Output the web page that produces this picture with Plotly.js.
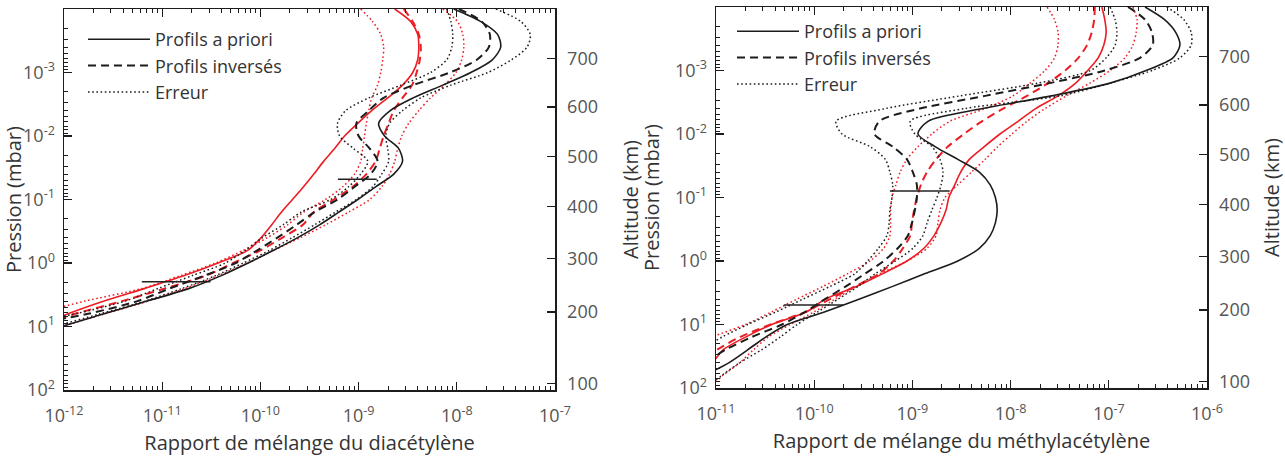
<!DOCTYPE html>
<html>
<head>
<meta charset="utf-8">
<script src="https://cdn.plot.ly/plotly-3.0.1.min.js"></script>
<style>
  html, body { margin: 0; padding: 0; background: #fff; }
  #chart { width: 1285px; height: 462px; }
</style>
</head>
<body>
<div id="chart"></div>
<script>
// ---------- Diacétylène (C4H2) : pression (mbar) et rapports de mélange ----------
const pressureDiac = [1e-4, 1.58e-4, 2.51e-4, 3.98e-4, 6.31e-4, 1e-3, 1.58e-3, 2.51e-3, 3.98e-3, 6.31e-3,
  1e-2, 1.58e-2, 2.51e-2, 3.98e-2, 6.31e-2, 0.1, 0.158, 0.251, 0.398, 0.631,
  1, 1.58, 2.51, 3.98, 6.31, 10, 15.8, 25.1];

const diacPriorBlack = [9.3e-9, 1.76e-8, 2.6e-8, 2.8e-8, 2.3e-8, 1.39e-8, 7.2e-9, 3.6e-9, 2.1e-9, 1.6e-9,
  1.84e-9, 2.56e-9, 2.8e-9, 2.28e-9, 1.49e-9, 9.8e-10, 6.3e-10, 4.0e-10, 2.4e-10, 1.36e-10,
  7.5e-11, 4.0e-11, 1.89e-11, 7.0e-12, 2.56e-12, 9.5e-13, 4.0e-13, 1.76e-13];
const diacRetrBlack = [1.05e-8, 1.8e-8, 2.17e-8, 2.12e-8, 1.6e-8, 8.5e-9, 3.6e-9, 1.8e-9, 1.27e-9, 9.5e-10,
  1.0e-9, 1.3e-9, 1.56e-9, 1.33e-9, 9.1e-10, 6.1e-10, 3.56e-10, 2.33e-10, 1.49e-10, 9.3e-11,
  5.6e-11, 2.7e-11, 1.2e-11, 5.6e-12, 1.76e-12, 3.6e-13, 1.1e-13, 3.4e-14];
const diacErrLowBlack = [7.9e-9, 8.7e-9, 9.1e-9, 8.9e-9, 7.9e-9, 5.4e-9, 2.7e-9, 1.27e-9, 7.4e-10, 6.1e-10,
  6.4e-10, 8.9e-10, 1.24e-9, 1.05e-9, 7.9e-10, 5.2e-10, 2.6e-10, 1.7e-10, 1.05e-10, 7.0e-11,
  4.4e-11, 2.02e-11, 9.1e-12, 4.2e-12, 1.3e-12, 2.5e-13, 7.7e-14, 2.4e-14];
const diacErrHighBlack = [2.5e-8, 4.5e-8, 5.6e-8, 5.2e-8, 3.6e-8, 2.07e-8, 8.7e-9, 4.3e-9, 2.8e-9, 2.07e-9,
  1.89e-9, 1.98e-9, 2.02e-9, 1.72e-9, 1.39e-9, 9.5e-10, 5.8e-10, 3.56e-10, 2.12e-10, 1.24e-10,
  6.7e-11, 3.5e-11, 1.6e-11, 6.7e-12, 2.33e-12, 8.1e-13, 3.2e-13, 1.24e-13];

const diacPriorRed = [2.33e-9, 3.4e-9, 4.0e-9, 4.1e-9, 4.0e-9, 3.56e-9, 2.8e-9, 1.98e-9, 1.36e-9, 9.8e-10,
  7.2e-10, 5.7e-10, 4.4e-10, 3.5e-10, 2.75e-10, 2.12e-10, 1.64e-10, 1.3e-10, 1.02e-10, 7.4e-11,
  3.7e-11, 1.68e-11, 6.7e-12, 2.56e-12, 1.1e-12, 5.1e-13, 2.2e-13, 9.8e-14];
const diacRetrRed = [2.88e-9, 3.56e-9, 4.1e-9, 4.3e-9, 4.2e-9, 3.9e-9, 3.5e-9, 2.8e-9, 2.28e-9, 2.02e-9,
  1.8e-9, 1.64e-9, 1.49e-9, 1.2e-9, 8.7e-10, 5.6e-10, 3.5e-10, 2.7e-10, 1.68e-10, 1.0e-10,
  5.3e-11, 2.8e-11, 1.07e-11, 3.9e-12, 1.3e-12, 5.1e-13, 2.0e-13, 7.7e-14];
const diacErrLowRed = [1.05e-9, 1.39e-9, 1.68e-9, 1.8e-9, 1.76e-9, 1.68e-9, 1.56e-9, 1.36e-9, 1.27e-9, 1.2e-9,
  1.15e-9, 1.1e-9, 1.05e-9, 9.1e-10, 6.9e-10, 4.6e-10, 2.75e-10, 1.89e-10, 1.18e-10, 6.7e-11,
  3.5e-11, 1.53e-11, 6.3e-12, 1.64e-12, 5.1e-13, 1.56e-13, 4.8e-14, 1.5e-14];
const diacErrHighRed = [7.2e-9, 1.02e-8, 1.15e-8, 1.18e-8, 1.12e-8, 9.8e-9, 7.5e-9, 5.4e-9, 4.1e-9, 3.24e-9,
  2.75e-9, 2.5e-9, 2.33e-9, 2.07e-9, 1.72e-9, 1.3e-9, 7.9e-10, 4.6e-10, 2.56e-10, 1.36e-10,
  7.4e-11, 3.7e-11, 1.72e-11, 7.2e-12, 2.6e-12, 9.5e-13, 3.7e-13, 1.46e-13];

// niveaux de sensibilité (barres horizontales)
const diacBarP = [0.048, 1.97];
const diacBarLo = [6.15e-10, 6.2e-12];
const diacBarHi = [1.53e-9, 3.1e-11];

// ---------- Méthylacétylène (CH3C2H) ----------
const pressureMethyl = [1e-4, 1.58e-4, 2.51e-4, 3.98e-4, 6.31e-4, 1e-3, 1.58e-3, 2.51e-3, 3.98e-3, 6.31e-3,
  1e-2, 1.58e-2, 2.51e-2, 3.98e-2, 6.31e-2, 0.1, 0.158, 0.251, 0.398, 0.631,
  1, 1.58, 2.51, 3.98, 6.31, 10, 15.8, 25.1, 39.8, 63.1, 100];

const methylPriorBlack = [2.34e-7, 3.7e-7, 4.8e-7, 5.3e-7, 4.5e-7, 2.4e-7, 1.03e-7, 2.6e-8, 5.2e-9, 1.44e-9,
  1.14e-9, 1.7e-9, 2.9e-9, 4.8e-9, 6.2e-9, 7.0e-9, 7.3e-9, 7.0e-9, 6.2e-9, 4.8e-9,
  2.9e-9, 1.35e-9, 6.3e-10, 2.9e-10, 1.29e-10, 5.3e-11, 3.2e-11, 2.1e-11, 1.36e-11, 7.7e-12, 4.3e-12];
const methylRetrBlack = [1.57e-7, 2.34e-7, 2.75e-7, 2.8e-7, 2.08e-7, 9.1e-8, 2.5e-8, 5.5e-9, 1.19e-9, 4.6e-10,
  4.1e-10, 6.3e-10, 8.8e-10, 1.01e-9, 1.11e-9, 1.11e-9, 1.06e-9, 9.9e-10, 9.0e-10, 7.1e-10,
  5.1e-10, 3.3e-10, 2.1e-10, 1.29e-10, 8.1e-11, 4.7e-11, 2.3e-11, 1.24e-11, 7.7e-12, 4.3e-12, 2.7e-12];
const methylErrLowBlack = [1.03e-7, 1.16e-7, 1.21e-7, 1.16e-7, 9.4e-8, 6.5e-8, 1.9e-8, 3.05e-9, 5.3e-10, 1.67e-10,
  1.92e-10, 3.7e-10, 5.3e-10, 5.9e-10, 6.3e-10, 6.2e-10, 5.9e-10, 5.8e-10, 5.5e-10, 4.5e-10,
  3.5e-10, 2.6e-10, 1.45e-10, 7.7e-11, 4.1e-11, 2.1e-11, 1.15e-11, 6.9e-12, 4.3e-12, 2.7e-12, 1.7e-12];
const methylErrHighBlack = [3.9e-7, 5.8e-7, 6.9e-7, 6.9e-7, 5.3e-7, 2.75e-7, 1.03e-7, 3.2e-8, 3.4e-9, 9.5e-10,
  1.06e-9, 1.58e-9, 1.91e-9, 2.05e-9, 1.96e-9, 1.78e-9, 1.58e-9, 1.41e-9, 1.28e-9, 1.01e-9,
  6.7e-10, 4.2e-10, 2.8e-10, 1.75e-10, 1.09e-10, 6.7e-11, 4.5e-11, 2.9e-11, 1.75e-11, 1.15e-11, 7.7e-12];

const methylPriorRed = [8.5e-8, 9.1e-8, 9.4e-8, 8.9e-8, 7.8e-8, 6.1e-8, 4.6e-8, 3.04e-8, 1.8e-8, 1.19e-8,
  7.8e-9, 5.4e-9, 3.8e-9, 3.1e-9, 2.7e-9, 2.35e-9, 2.2e-9, 1.95e-9, 1.66e-9, 1.31e-9,
  8.8e-10, 5.0e-10, 2.7e-10, 1.29e-10, 8.4e-11, 3.7e-11, 2.0e-11, 1.18e-11, 9.3e-12, 7.2e-12, 5.6e-12];
const methylRetrRed = [7.2e-8, 7.1e-8, 6.7e-8, 6.0e-8, 4.9e-8, 3.6e-8, 2.4e-8, 1.47e-8, 8.4e-9, 5.1e-9,
  3.35e-9, 2.3e-9, 1.74e-9, 1.41e-9, 1.22e-9, 1.11e-9, 1.04e-9, 9.9e-10, 9.5e-10, 8.0e-10,
  6.4e-10, 4.6e-10, 2.6e-10, 1.45e-10, 8.2e-11, 3.6e-11, 1.75e-11, 1.02e-11, 6.9e-12, 4.8e-12, 3.4e-12];
const methylErrLowRed = [2.35e-8, 2.8e-8, 3.04e-8, 3.04e-8, 2.8e-8, 2.24e-8, 1.58e-8, 1.06e-8, 5.5e-9, 2.4e-9,
  1.58e-9, 1.14e-9, 8.8e-10, 7.5e-10, 6.8e-10, 6.2e-10, 6.0e-10, 6.0e-10, 5.9e-10, 5.1e-10,
  3.7e-10, 2.2e-10, 1.23e-10, 6.7e-11, 3.7e-11, 2.0e-11, 9.1e-12, 4.8e-12, 2.7e-12, 1.5e-12, 8.3e-13];
const methylErrHighRed = [1.76e-7, 1.94e-7, 1.9e-7, 1.76e-7, 1.46e-7, 1.03e-7, 6.4e-8, 3.7e-8, 2.24e-8, 1.47e-8,
  1.03e-8, 7.4e-9, 5.5e-9, 4.0e-9, 2.9e-9, 2.15e-9, 1.91e-9, 1.82e-9, 1.74e-9, 1.41e-9,
  8.8e-10, 4.7e-10, 2.7e-10, 1.63e-10, 1.0e-10, 5.7e-11, 3.4e-11, 2.4e-11, 1.75e-11, 1.18e-11, 8.7e-12];

const methylBarP = [0.079, 4.93];
const methylBarLo = [5.9e-10, 4.9e-11];
const methylBarHi = [2.4e-9, 1.98e-10];

// ---------- Axes ----------
const pressureTicks = [1e-4, 1e-3, 1e-2, 1e-1, 1, 10, 100];
const pressureTickText = ['10<sup>-4</sup>', '10<sup>-3</sup>', '10<sup>-2</sup>', '10<sup>-1</sup>',
  '10<sup>0</sup>', '10<sup>1</sup>', '10<sup>2</sup>'];
const diacTicks = [1e-12, 1e-11, 1e-10, 1e-9, 1e-8, 1e-7];
const diacTickText = ['10<sup>-12</sup>', '10<sup>-11</sup>', '10<sup>-10</sup>', '10<sup>-9</sup>',
  '10<sup>-8</sup>', '10<sup>-7</sup>'];
const methylTicks = [1e-11, 1e-10, 1e-9, 1e-8, 1e-7, 1e-6];
const methylTickText = ['10<sup>-11</sup>', '10<sup>-10</sup>', '10<sup>-9</sup>', '10<sup>-8</sup>',
  '10<sup>-7</sup>', '10<sup>-6</sup>'];
// altitude (km) et pression correspondante (mbar)
const altitudeKm = [100, 200, 300, 400, 500, 600, 700];
const altitudePressure = [80, 5.9, 0.86, 0.13, 0.021, 0.0035, 0.00061];

const FONT = '"Open Sans", "Noto Sans", sans-serif';
const BLACK = '#1c1c1c';
const RED = '#ec1c24';
const tickFont = { family: FONT, size: 18, color: '#555' };
const titleFont = { family: FONT, size: 20, color: '#333' };

function minorTicks(lo, hi) {
  const v = [];
  for (let e = lo; e < hi; e++) for (let m = 2; m <= 9; m++) v.push(m * Math.pow(10, e));
  return v;
}

const STYLE = {
  prior: { dash: 'solid', width: 1.6 },
  retr:  { dash: '8px,5px', width: 2.0 },
  err:   { dash: '1.6px,2.6px', width: 1.5 }
};

function profile(x, y, color, kind, xa, ya, legendInfo) {
  const t = {
    type: 'scatter', mode: 'lines', x: x, y: y, xaxis: xa, yaxis: ya,
    line: { color: color, width: STYLE[kind].width, dash: STYLE[kind].dash, shape: 'spline', smoothing: 0.8 },
    hoverinfo: 'skip', showlegend: false
  };
  if (legendInfo) { t.name = legendInfo.name; t.legend = legendInfo.legend; t.showlegend = true; }
  return t;
}

function bars(p, lo, hi, xa, ya) {
  return p.map((pv, i) => ({
    type: 'scatter', mode: 'lines', x: [lo[i], hi[i]], y: [pv, pv], xaxis: xa, yaxis: ya,
    line: { color: '#222', width: 1.6 }, hoverinfo: 'skip', showlegend: false
  }));
}

const traces = [
  // diacétylène
  profile(diacErrLowRed, pressureDiac, RED, 'err', 'x', 'y'),
  profile(diacErrHighRed, pressureDiac, RED, 'err', 'x', 'y'),
  profile(diacPriorRed, pressureDiac, RED, 'prior', 'x', 'y'),
  profile(diacRetrRed, pressureDiac, RED, 'retr', 'x', 'y'),
  profile(diacPriorBlack, pressureDiac, BLACK, 'prior', 'x', 'y', { name: 'Profils a priori', legend: 'legend' }),
  profile(diacRetrBlack, pressureDiac, BLACK, 'retr', 'x', 'y', { name: 'Profils inversés', legend: 'legend' }),
  profile(diacErrLowBlack, pressureDiac, BLACK, 'err', 'x', 'y', { name: 'Erreur', legend: 'legend' }),
  profile(diacErrHighBlack, pressureDiac, BLACK, 'err', 'x', 'y'),
  ...bars(diacBarP, diacBarLo, diacBarHi, 'x', 'y'),
  // méthylacétylène
  profile(methylErrLowRed, pressureMethyl, RED, 'err', 'x2', 'y2'),
  profile(methylErrHighRed, pressureMethyl, RED, 'err', 'x2', 'y2'),
  profile(methylPriorRed, pressureMethyl, RED, 'prior', 'x2', 'y2'),
  profile(methylRetrRed, pressureMethyl, RED, 'retr', 'x2', 'y2'),
  profile(methylPriorBlack, pressureMethyl, BLACK, 'prior', 'x2', 'y2', { name: 'Profils a priori', legend: 'legend2' }),
  profile(methylRetrBlack, pressureMethyl, BLACK, 'retr', 'x2', 'y2', { name: 'Profils inversés', legend: 'legend2' }),
  profile(methylErrLowBlack, pressureMethyl, BLACK, 'err', 'x2', 'y2', { name: 'Erreur', legend: 'legend2' }),
  profile(methylErrHighBlack, pressureMethyl, BLACK, 'err', 'x2', 'y2'),
  ...bars(methylBarP, methylBarLo, methylBarHi, 'x2', 'y2'),
  // axes d'altitude (superposés)
  { type: 'scatter', mode: 'lines', x: [null], y: [null], xaxis: 'x', yaxis: 'y3', showlegend: false, hoverinfo: 'skip' },
  { type: 'scatter', mode: 'lines', x: [null], y: [null], xaxis: 'x2', yaxis: 'y4', showlegend: false, hoverinfo: 'skip' }
];

function mixAxis(domain, range, ticks, text, title) {
  return {
    type: 'log', domain: domain, range: range, autorange: false,
    tickmode: 'array', tickvals: ticks, ticktext: text,
    ticks: 'inside', ticklen: 8, tickwidth: 1.2, tickcolor: BLACK,
    minor: { tickmode: 'array', tickvals: minorTicks(range[0], range[1]), ticks: 'inside',
             ticklen: 4, tickwidth: 1, tickcolor: BLACK, showgrid: false },
    showline: true, linecolor: BLACK, linewidth: 1.5, mirror: 'ticks',
    showgrid: false, zeroline: false, tickfont: tickFont, ticklabelstandoff: 9,
    title: { text: title, font: titleFont, standoff: 10 }
  };
}

function pressureAxis(domain, anchor) {
  return {
    type: 'log', domain: domain, anchor: anchor, range: [2, -4], autorange: false,
    tickmode: 'array', tickvals: pressureTicks, ticktext: pressureTickText,
    ticks: 'inside', ticklen: 8, tickwidth: 1.2, tickcolor: BLACK,
    minor: { tickmode: 'array', tickvals: minorTicks(-4, 2), ticks: 'inside',
             ticklen: 4, tickwidth: 1, tickcolor: BLACK, showgrid: false },
    showline: true, linecolor: BLACK, linewidth: 1.5, mirror: false,
    showgrid: false, zeroline: false, tickfont: tickFont, ticklabelstandoff: 4,
    title: { text: 'Pression (mbar)', font: titleFont, standoff: 10 }
  };
}

function altitudeAxis(overlay, anchor) {
  return {
    type: 'log', overlaying: overlay, anchor: anchor, side: 'right', range: [2, -4], autorange: false,
    tickmode: 'array', tickvals: altitudePressure, ticktext: altitudeKm.map(String),
    ticks: 'inside', ticklen: 8, tickwidth: 1.2, tickcolor: BLACK,
    showline: true, linecolor: BLACK, linewidth: 1.5,
    showgrid: false, zeroline: false, tickfont: tickFont, ticklabelstandoff: 7,
    title: { text: 'Altitude (km)', font: titleFont, standoff: 27 }
  };
}

const W = 1285, H = 462;
const legendBase = {
  xanchor: 'left', yanchor: 'top', bgcolor: 'rgba(0,0,0,0)', borderwidth: 0,
  font: { family: FONT, size: 18, color: '#333' }, itemwidth: 62, tracegroupgap: 0
};

const layout = {
  width: W, height: H,
  margin: { l: 0, r: 0, t: 0, b: 0 },
  paper_bgcolor: '#fff', plot_bgcolor: '#fff',
  hovermode: false,
  font: { family: FONT },
  xaxis: Object.assign(mixAxis([64 / W, 555 / W], [-12, -7], diacTicks, diacTickText,
    'Rapport de mélange du diacétylène'), { anchor: 'y' }),
  xaxis2: Object.assign(mixAxis([716 / W, 1207 / W], [-11, -6], methylTicks, methylTickText,
    'Rapport de mélange du méthylacétylène'), { anchor: 'y2' }),
  yaxis: pressureAxis([1 - 390 / H, 1 - 9 / H], 'x'),
  yaxis2: pressureAxis([1 - 388 / H, 1 - 7 / H], 'x2'),
  yaxis3: altitudeAxis('y', 'x'),
  yaxis4: altitudeAxis('y2', 'x2'),
  legend: Object.assign({ x: 83 / W, y: 1 - 21 / H }, legendBase),
  legend2: Object.assign({ x: 732 / W, y: 1 - 13 / H }, legendBase)
};

Plotly.newPlot('chart', traces, layout, { staticPlot: true, displayModeBar: false });
</script>
</body>
</html>
